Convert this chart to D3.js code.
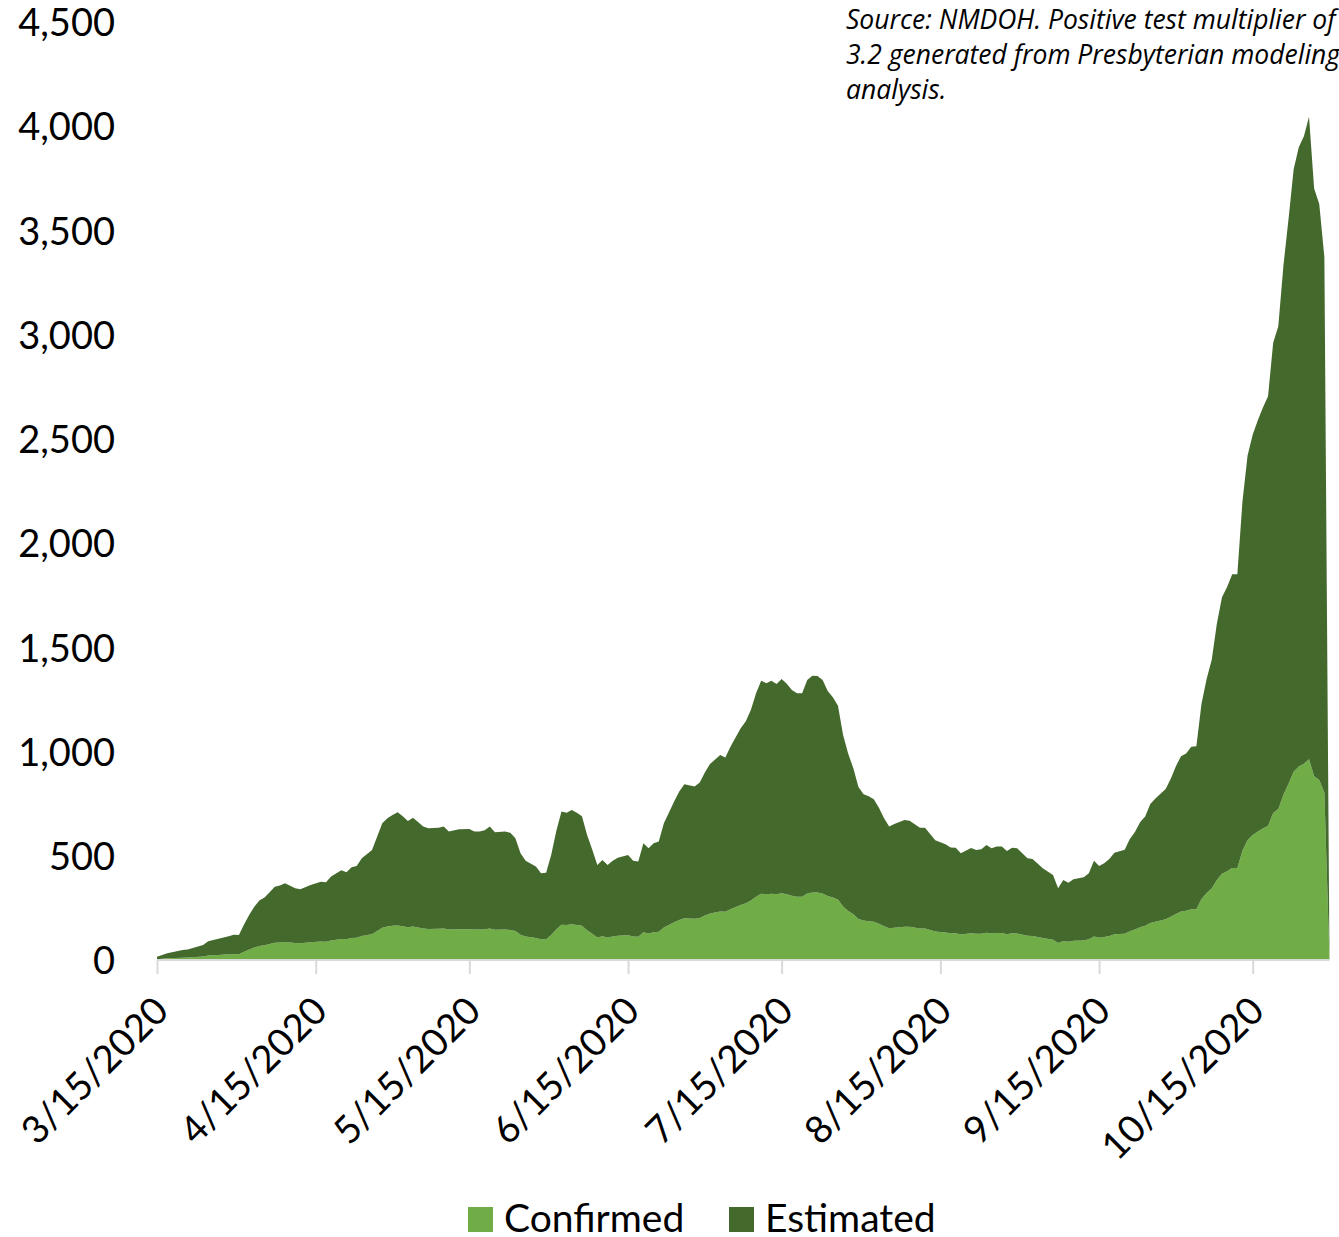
<!DOCTYPE html>
<html><head><meta charset="utf-8">
<script src="https://cdn.jsdelivr.net/npm/d3@7"></script>
<style>html,body{margin:0;padding:0;background:#fff;overflow:hidden}</style>
</head><body>
<svg id="chart" width="1339" height="1237"></svg>
<script>
const startDate = "2020-03-15";
const dayOffsets = [0,2,5,6,9,10,12,14,15,16,17,18,19,20,21,22,23,24,25,27,28,30,32,33,34,36,37,38,39,40,42,44,45,46,47,48,49,50,52,53,55,56,57,59,61,62,63,64,65,66,68,69,70,71,72,74,75,76,77,78,79,80,81,82,83,84,85,86,87,88,89,90,92,93,94,95,96,97,98,99,101,102,103,105,106,107,108,110,111,112,114,115,116,117,118,119,120,121,122,123,124,125,126,127,128,129,130,131,132,133,134,135,136,137,138,139,140,141,142,143,144,146,147,149,150,152,154,155,156,157,159,160,161,162,163,164,165,166,167,168,170,171,173,175,176,177,178,179,181,182,183,184,185,186,187,189,190,191,192,193,194,195,197,198,199,200,201,202,203,204,205,206,207,208,209,210,211,212,213,214,215,216,217,218,219,220,221,222,223,224,225,226,227,228,229];
const confirmed = [4,8,11,12,17,21,24,27,28,28,40,50,60,67,71,77,83,84,86,81,80,85,89,88,94,101,99,105,107,115,124,155,161,164,166,162,157,161,151,149,150,151,146,148,148,146,146,147,151,145,146,144,139,121,113,106,99,99,120,148,169,168,171,168,164,143,126,108,114,108,113,116,119,113,112,133,127,133,135,156,181,192,200,198,202,214,223,233,231,243,264,272,285,304,318,316,318,315,320,315,308,304,304,319,324,324,319,307,300,290,257,235,219,197,189,186,183,174,162,152,155,160,159,151,151,137,132,128,128,122,128,126,126,131,127,129,129,124,128,127,116,115,105,97,82,91,88,92,94,99,113,107,110,115,123,126,138,146,157,164,178,184,195,207,221,233,236,244,244,293,321,343,384,414,426,441,441,524,576,600,617,631,644,705,724,793,846,903,928,941,963,881,864,803,0];
const estimated = [11,24,37,38,55,69,78,87,93,92,130,166,195,218,229,248,269,274,282,263,259,275,287,285,306,329,322,340,344,373,404,501,519,532,543,528,510,522,489,483,485,489,470,479,481,470,471,475,489,468,471,466,445,391,363,342,317,320,385,472,543,539,549,538,526,457,404,348,366,348,363,374,385,363,360,427,409,427,433,500,579,616,643,634,649,686,717,751,741,780,848,873,915,976,1022,1012,1022,1009,1028,1010,987,976,976,1024,1040,1039,1024,983,960,930,823,755,701,633,606,599,588,556,518,488,497,512,509,484,484,438,423,412,411,390,409,402,405,421,409,415,415,399,411,409,372,370,335,311,262,293,283,295,303,317,363,344,354,370,392,403,443,468,504,524,571,591,625,663,709,745,755,779,782,936,1027,1098,1229,1326,1364,1410,1410,1676,1844,1920,1973,2019,2061,2256,2316,2538,2709,2891,2971,3011,3082,2820,2763,2568,0];
const seriesNames = ["Confirmed", "Estimated"];
const seriesColors = ["#70AD47", "#44692D"];
const yTicks = [0,500,1000,1500,2000,2500,3000,3500,4000,4500];
const xTickDates = ["2020-03-15","2020-04-15","2020-05-15","2020-06-15","2020-07-15","2020-08-15","2020-09-15","2020-10-15"];
const endDate = "2020-10-30";
const sourceLines = ["Source: NMDOH. Positive test multiplier of","3.2 generated from Presbyterian modeling","analysis."];

const parse = d3.timeParse("%Y-%m-%d");
const start = parse(startDate);
const rows = dayOffsets.map((o,i) => ({
  date: d3.timeDay.offset(start, o),
  Confirmed: confirmed[i],
  Estimated: estimated[i]
}));

const svg = d3.select("#chart");
const font = "Lato, 'Open Sans', sans-serif";

const x = d3.scaleTime().domain([start, parse(endDate)]).range([157, 1329.5]);
const y = d3.scaleLinear().domain([0, 4500]).range([960, 22]);

const stack = d3.stack().keys(seriesNames);
const layers = stack(rows);
const area = d3.area()
  .x(d => x(d.data.date))
  .y0(d => y(d[0]))
  .y1(d => y(d[1]))
  .curve(d3.curveLinear);

svg.append("g").selectAll("path").data(layers).join("path")
  .attr("d", area)
  .attr("fill", (d,i) => seriesColors[i]);

// x axis
const xAxis = d3.axisBottom(x)
  .tickValues(xTickDates.map(parse))
  .tickSize(14)
  .tickFormat(d3.timeFormat("%-m/%-d/%Y"));
const gx = svg.append("g").attr("transform", "translate(0,960)").call(xAxis);
gx.select(".domain").attr("stroke", "#d9d9d9").attr("stroke-width", 2)
  .attr("d", `M${x(start)},0H${x(parse(endDate))}`);
gx.selectAll(".tick line").attr("stroke", "#d9d9d9").attr("stroke-width", 2);
gx.selectAll(".tick text")
  .attr("font-family", font).attr("font-size", 38).attr("fill", "#000")
  .attr("text-anchor", "end")
  .attr("transform", "translate(-6,34) rotate(-45)")
  .attr("x", 0).attr("y", 0).attr("dy", "0.71em");

// y axis
const yAxis = d3.axisLeft(y).tickValues(yTicks).tickSize(0).tickPadding(0)
  .tickFormat(d3.format(","));
const gy = svg.append("g").attr("transform", "translate(115,0)").call(yAxis);
gy.select(".domain").remove();
gy.selectAll(".tick text").attr("font-family", font).attr("font-size", 38)
  .attr("fill", "#000").attr("dy", "0.36em");

// source note
const src = svg.append("text").attr("font-family", "'Open Sans', sans-serif").attr("font-style", "italic")
  .attr("font-size", 26.5).attr("fill", "#000");
sourceLines.forEach((t,i) => src.append("tspan").attr("x", 846).attr("y", 29 + i*35).text(t));

// legend
const legend = svg.append("g").attr("font-family", font).attr("font-size", 39);
const legendX = [468, 729];
seriesNames.forEach((n,i) => {
  const g = legend.append("g").attr("transform", `translate(${legendX[i]},1207)`);
  g.append("rect").attr("width", 25).attr("height", 25).attr("fill", seriesColors[i]);
  g.append("text").attr("x", 36).attr("y", 25).text(n);
});
</script>
</body></html>
